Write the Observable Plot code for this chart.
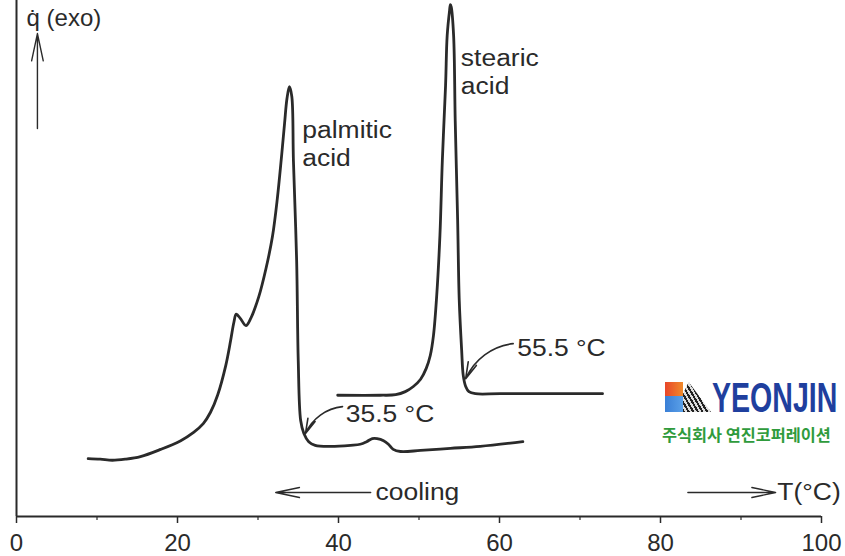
<!DOCTYPE html>
<html>
<head>
<meta charset="utf-8">
<script src="https://cdn.jsdelivr.net/npm/d3@7"></script>
<script src="https://cdn.jsdelivr.net/npm/@observablehq/plot@0.6"></script>
<style>
  html, body { margin: 0; padding: 0; background: #fff; }
  #wrap { position: relative; width: 845px; height: 556px; font-family: "Liberation Sans", Arial, sans-serif; }
  #logo { position: absolute; left: 665px; top: 382px; width: 178px; height: 64px; }
  #logo .sq1 { position: absolute; left: 0; top: 0; width: 18px; height: 14px; background: linear-gradient(90deg, #e8462a, #f08a2a); }
  #logo .sq2 { position: absolute; left: 0; top: 14px; width: 18px; height: 16px; background: linear-gradient(90deg, #3a7fd6, #5aa0e8); }
  #logo .tri { position: absolute; left: 18px; top: 0; width: 28px; height: 30px;
    background: repeating-linear-gradient(60deg, #222 0 2px, #ddd 2px 4px);
    clip-path: polygon(20% 0, 100% 100%, 0 100%, 0 40%); }
  #logo .name { position: absolute; left: 47px; top: -5.5px; font: bold 42px/1 "Liberation Sans", Arial, sans-serif; color: #1f3f9e; transform: scaleX(0.68); transform-origin: left top; white-space: nowrap; }
  #logo .kr { position: absolute; left: -3px; top: 44px; font: bold 16px/1 "Noto Sans CJK KR", sans-serif; color: #2f9b3c; white-space: nowrap; transform: scaleX(1.02); transform-origin: left top; }
</style>
</head>
<body>
<div id="wrap"></div>
<script>
// Temperature (°C) and exothermic heat flow (arbitrary units, 0–100)
const palmT = [8.9, 10.4, 11.9, 13.5, 15.4, 17.9, 20.4, 22.0, 23.2, 24.1, 25.0, 26.0, 26.6, 27.0, 27.3, 27.8, 28.5, 29.1, 30.1, 31.0, 31.8, 32.4, 32.9, 33.3, 33.6, 33.9, 34.2, 34.4, 34.8, 35.0, 35.3, 35.7, 36.3, 37.1, 39.0, 41.5, 42.7, 43.5, 44.2, 44.8, 45.6, 46.2, 46.8, 47.7, 50.2, 53.9, 57.6, 62.9];
const palmQ = [11.2, 11.1, 10.9, 11.1, 11.6, 13.0, 14.7, 16.3, 18.0, 20.2, 23.6, 29.3, 34.1, 37.6, 39.2, 38.4, 37.0, 38.4, 42.6, 48.1, 54.3, 61.6, 69.4, 76.2, 81.0, 83.3, 81.4, 69.0, 49.6, 30.2, 18.6, 16.1, 14.5, 13.8, 13.6, 13.8, 14.0, 14.5, 15.1, 15.1, 14.7, 14.0, 13.0, 12.6, 12.8, 13.2, 13.6, 14.5];
const stearT = [39.9, 45.2, 47.1, 48.3, 49.3, 50.2, 50.9, 51.4, 51.8, 52.2, 52.6, 52.9, 53.3, 53.5, 53.8, 53.9, 54.0, 54.3, 54.5, 54.8, 55.0, 55.3, 55.5, 55.8, 56.2, 57.0, 60.1, 72.8];
const stearQ = [23.5, 23.5, 23.6, 24.2, 25.2, 26.6, 28.7, 31.2, 35.1, 42.8, 54.5, 69.0, 83.5, 93.2, 98.1, 99.2, 98.8, 93.2, 76.7, 57.4, 41.9, 32.2, 27.3, 25.2, 24.2, 23.8, 23.8, 23.8];
const majorTicks = [0, 20, 40, 60, 80, 100];
const minorTicks = [10, 30, 50, 70, 90];
const onsetLabels = ["35.5 °C", "55.5 °C"];

const palm = palmT.map((t, i) => ({T: t, q: palmQ[i]}));
const stear = stearT.map((t, i) => ({T: t, q: stearQ[i]}));

const ink = "#2a2a2a";
const font = "Liberation Sans, Arial, sans-serif";
const fs = 23;

const txt = (s, x, y, extra = {}) => Plot.text([s], {x: () => x, y: () => y, text: d => d, textAnchor: "start", lineAnchor: "middle", fontSize: fs, fill: ink, ...extra});

const chart = Plot.plot({
  width: 845,
  height: 556,
  marginTop: 0,
  marginLeft: 16,
  marginRight: 24,
  marginBottom: 40,
  style: {fontFamily: font, background: "#fff", color: ink},
  x: {domain: [0, 100]},
  y: {domain: [0, 100], axis: null},
  marks: [
    Plot.axisX({ticks: minorTicks, tickSize: 4, text: null, label: null, stroke: ink, strokeWidth: 1.2}),
    Plot.axisX({ticks: majorTicks, tickSize: 7, tickPadding: 10, fontSize: 24, stroke: ink, strokeWidth: 1.5, fill: ink, label: null}),
    Plot.ruleY([0], {stroke: ink, strokeWidth: 2}),
    Plot.ruleX([0], {stroke: ink, strokeWidth: 2}),
    Plot.line(palm, {x: "T", y: "q", curve: "catmull-rom", stroke: ink, strokeWidth: 2.8}),
    Plot.line(stear, {x: "T", y: "q", curve: "catmull-rom", stroke: ink, strokeWidth: 2.8}),
    // annotation arrows
    Plot.arrow([0], {x1: () => 40.5, y1: () => 21.3, x2: () => 35.9, y2: () => 16.1, bend: -30, stroke: ink, strokeWidth: 1.6, headLength: 16, headAngle: 30}),
    Plot.arrow([0], {x1: () => 61.7, y1: () => 33.5, x2: () => 55.8, y2: () => 26.7, bend: -30, stroke: ink, strokeWidth: 1.6, headLength: 16, headAngle: 30}),
    Plot.arrow([0], {x1: () => 2.6, y1: () => 75.2, x2: () => 2.6, y2: () => 93.6, stroke: ink, strokeWidth: 1.4, headLength: 30, headAngle: 24}),
    Plot.arrow([0], {x1: () => 44.0, y1: () => 4.65, x2: () => 32.2, y2: () => 4.65, stroke: ink, strokeWidth: 1.4, headLength: 26, headAngle: 24}),
    Plot.arrow([0], {x1: () => 83.4, y1: () => 4.65, x2: () => 94.3, y2: () => 4.65, stroke: ink, strokeWidth: 1.4, headLength: 26, headAngle: 24}),
    // labels
    txt("palmitic", 35.5, 74.8),
    txt("acid", 35.5, 69.4),
    txt("stearic", 55.2, 88.8),
    txt("acid", 55.2, 83.3),
    txt(onsetLabels[0], 40.9, 19.8),
    txt(onsetLabels[1], 62.2, 32.6),
    txt("cooling", 44.6, 4.65),
    txt("T(°C)", 94.5, 4.65),
    txt("q\u0307 (exo)", 1.25, 96.5, {fontSize: 24})
  ]
});

const wrap = document.getElementById("wrap");
wrap.appendChild(chart);

// the scanned labels are set a little wider than the normal face
const wide = new Set(["palmitic", "acid", "stearic", "cooling", "T(°C)", ...onsetLabels]);
chart.querySelectorAll("text").forEach(t => {
  if (wide.has(t.textContent) && !t.querySelector("tspan")) {
    const len = t.getComputedTextLength();
    t.setAttribute("textLength", (len * 1.15).toFixed(1));
    t.setAttribute("lengthAdjust", "spacingAndGlyphs");
  }
});

const logo = document.createElement("div");
logo.id = "logo";
logo.innerHTML = '<div class="sq1"></div><div class="sq2"></div><div class="tri"></div><div class="name">YEONJIN</div><div class="kr">주식회사 연진코퍼레이션</div>';
wrap.appendChild(logo);
</script>
</body>
</html>
